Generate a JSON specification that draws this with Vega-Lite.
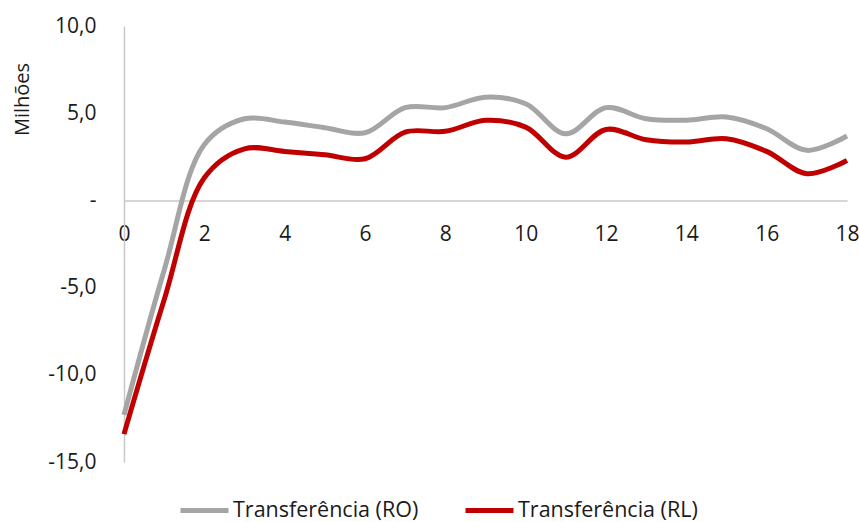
{
  "$schema": "https://vega.github.io/schema/vega-lite/v6.json",
  "width": 723,
  "height": 436,
  "autosize": {"type": "none"},
  "padding": {"left": 124, "top": 26, "right": 12, "bottom": 60},
  "background": "white",
  "config": {
    "view": {"stroke": null},
    "font": "Open Sans",
    "axis": {"labelFont": "Open Sans", "titleFont": "Open Sans", "labelColor": "#1a1a1a", "titleColor": "#1a1a1a", "grid": false, "ticks": false, "domainColor": "#c8c8c8", "domainWidth": 1.5},
    "legend": {"labelFont": "Open Sans", "labelColor": "#1a1a1a"}
  },
  "data": {
    "values": [
      {"x": 0, "serie": "Transferência (RO)", "v": -12.3},
      {"x": 1, "serie": "Transferência (RO)", "v": -4.0},
      {"x": 2, "serie": "Transferência (RO)", "v": 3.2},
      {"x": 3, "serie": "Transferência (RO)", "v": 4.68},
      {"x": 4, "serie": "Transferência (RO)", "v": 4.49},
      {"x": 5, "serie": "Transferência (RO)", "v": 4.17},
      {"x": 6, "serie": "Transferência (RO)", "v": 3.88},
      {"x": 7, "serie": "Transferência (RO)", "v": 5.32},
      {"x": 8, "serie": "Transferência (RO)", "v": 5.32},
      {"x": 9, "serie": "Transferência (RO)", "v": 5.92},
      {"x": 10, "serie": "Transferência (RO)", "v": 5.54},
      {"x": 11, "serie": "Transferência (RO)", "v": 3.82},
      {"x": 12, "serie": "Transferência (RO)", "v": 5.32},
      {"x": 13, "serie": "Transferência (RO)", "v": 4.68},
      {"x": 14, "serie": "Transferência (RO)", "v": 4.6},
      {"x": 15, "serie": "Transferência (RO)", "v": 4.78},
      {"x": 16, "serie": "Transferência (RO)", "v": 4.11},
      {"x": 17, "serie": "Transferência (RO)", "v": 2.87},
      {"x": 18, "serie": "Transferência (RO)", "v": 3.69},
      {"x": 0, "serie": "Transferência (RL)", "v": -13.4},
      {"x": 1, "serie": "Transferência (RL)", "v": -5.7},
      {"x": 2, "serie": "Transferência (RL)", "v": 1.3},
      {"x": 3, "serie": "Transferência (RL)", "v": 2.96},
      {"x": 4, "serie": "Transferência (RL)", "v": 2.81},
      {"x": 5, "serie": "Transferência (RL)", "v": 2.62},
      {"x": 6, "serie": "Transferência (RL)", "v": 2.39},
      {"x": 7, "serie": "Transferência (RL)", "v": 3.92},
      {"x": 8, "serie": "Transferência (RL)", "v": 3.96},
      {"x": 9, "serie": "Transferência (RL)", "v": 4.59},
      {"x": 10, "serie": "Transferência (RL)", "v": 4.2},
      {"x": 11, "serie": "Transferência (RL)", "v": 2.48},
      {"x": 12, "serie": "Transferência (RL)", "v": 4.07},
      {"x": 13, "serie": "Transferência (RL)", "v": 3.48},
      {"x": 14, "serie": "Transferência (RL)", "v": 3.35},
      {"x": 15, "serie": "Transferência (RL)", "v": 3.54},
      {"x": 16, "serie": "Transferência (RL)", "v": 2.81},
      {"x": 17, "serie": "Transferência (RL)", "v": 1.53},
      {"x": 18, "serie": "Transferência (RL)", "v": 2.29}
    ]
  },
  "mark": {"type": "line", "interpolate": "catmull-rom", "strokeWidth": 5, "strokeCap": "butt"},
  "encoding": {
    "x": {
      "field": "x", "type": "quantitative",
      "scale": {"domain": [0, 18], "nice": false, "zero": false},
      "axis": {"values": [0, 2, 4, 6, 8, 10, 12, 14, 16, 18], "title": null, "offset": -261.6, "labelFontSize": 21, "labelPadding": 23, "labelFlush": false}
    },
    "y": {
      "field": "v", "type": "quantitative",
      "scale": {"domain": [-15, 10], "nice": false},
      "axis": {
        "values": [-15, -10, -5, 0, 5, 10],
        "labelExpr": "datum.value == 0 ? '-   ' : (datum.value < 0 ? '-' : '') + replace(format(abs(datum.value), '.1f'), '.', ',')",
        "labelFontSize": 21, "labelPadding": 28,
        "title": "Milhões", "titleFontSize": 20, "titleFontWeight": "normal",
        "titleAngle": -90, "titleX": -102, "titleY": 73, "titleAlign": "center", "titleBaseline": "middle"
      }
    },
    "color": {
      "field": "serie", "type": "nominal",
      "scale": {"domain": ["Transferência (RO)", "Transferência (RL)"], "range": ["#A5A5A5", "#C00000"]},
      "legend": {
        "title": null, "orient": "none", "direction": "horizontal",
        "legendX": 54, "legendY": 458, "padding": 0,
        "symbolType": "stroke", "symbolSize": 2304, "symbolStrokeWidth": 5,
        "labelFontSize": 21.5, "labelOffset": 2, "columnPadding": 36, "labelLimit": 400
      }
    }
  }
}
